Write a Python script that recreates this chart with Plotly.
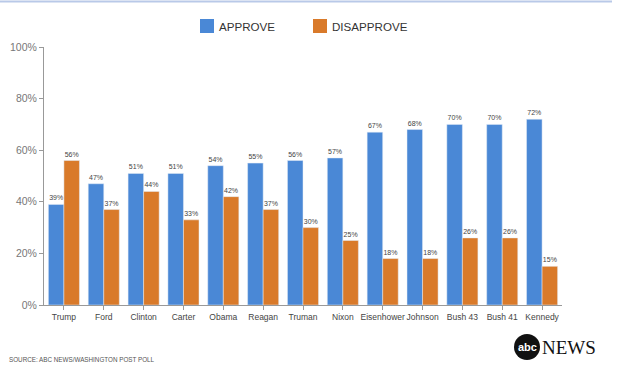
import plotly.graph_objects as go

presidents = ["Trump", "Ford", "Clinton", "Carter", "Obama", "Reagan", "Truman",
              "Nixon", "Eisenhower", "Johnson", "Bush 43", "Bush 41", "Kennedy"]
approve = [39, 47, 51, 51, 54, 55, 56, 57, 67, 68, 70, 70, 72]
disapprove = [56, 37, 44, 33, 42, 37, 30, 25, 18, 18, 26, 26, 15]
series_names = ["APPROVE", "DISAPPROVE"]

BLUE = "#4A88D6"
ORANGE = "#D97A2A"

W, H = 621, 389
L, R, T, B = 44, 59, 47, 84
pw, ph = W - L - R, H - T - B

def px(x):
    return (x - L) / pw

def py(y):
    return (H - B - y) / ph

fig = go.Figure()
fig.add_trace(go.Bar(x=presidents, y=approve, name=series_names[0], marker_color=BLUE,
                     text=[f"{v}%" for v in approve], textposition="outside",
                     textfont=dict(size=7, color="#444"), cliponaxis=False))
fig.add_trace(go.Bar(x=presidents, y=disapprove, name=series_names[1], marker_color=ORANGE,
                     text=[f"{v}%" for v in disapprove], textposition="outside",
                     textfont=dict(size=7, color="#444"), cliponaxis=False))

fig.update_layout(
    width=W, height=H,
    margin=dict(l=L, r=R, t=T, b=B, autoexpand=False),
    paper_bgcolor="white", plot_bgcolor="white",
    barmode="group", bargap=0.22, bargroupgap=0,
    font=dict(family="Liberation Sans, Arial, sans-serif", color="#444"),
    showlegend=False,
    xaxis=dict(showline=True, linecolor="#999", linewidth=1, ticks="outside", ticklen=4,
               tickcolor="#999", tickangle=0, tickfont=dict(size=8.5, color="#444"),
               showgrid=False, automargin=False),
    yaxis=dict(range=[0, 100], tickvals=[0, 20, 40, 60, 80, 100],
               ticktext=["0%", "20%", "40%", "60%", "80%", "100%"],
               showline=True, linecolor="#999", linewidth=1, ticks="outside", ticklen=4,
               tickcolor="#999", tickfont=dict(size=10.5, color="#777"), showgrid=False,
               zeroline=False, automargin=False),
    shapes=[
        dict(type="line", xref="paper", yref="paper", x0=px(0), x1=px(612), y0=py(1.5), y1=py(1.5),
             line=dict(color="#B9C9E8", width=2)),
        dict(type="rect", xref="paper", yref="paper", x0=px(200), x1=px(214),
             y0=py(33), y1=py(19), fillcolor=BLUE, line=dict(width=0)),
        dict(type="rect", xref="paper", yref="paper", x0=px(313), x1=px(327),
             y0=py(33), y1=py(19), fillcolor=ORANGE, line=dict(width=0)),
        dict(type="circle", xref="paper", yref="paper", x0=px(514), x1=px(540),
             y0=py(360), y1=py(334), fillcolor="#111", line=dict(width=0)),
    ],
    annotations=[
        dict(text=series_names[0], xref="paper", yref="paper", x=px(217), y=py(26),
             xanchor="left", yanchor="middle", showarrow=False,
             font=dict(size=11.6, color="#333")),
        dict(text=series_names[1], xref="paper", yref="paper", x=px(330), y=py(26),
             xanchor="left", yanchor="middle", showarrow=False,
             font=dict(size=11.6, color="#333")),
        dict(text="SOURCE: ABC NEWS/WASHINGTON POST POLL", xref="paper", yref="paper",
             x=px(7), y=py(359), xanchor="left", yanchor="middle", showarrow=False,
             font=dict(size=6.3, color="#555")),
        dict(text="<b>abc</b>", xref="paper", yref="paper", x=px(527), y=py(347),
             xanchor="center", yanchor="middle", showarrow=False,
             font=dict(size=11, color="white")),
        dict(text="NEWS", xref="paper", yref="paper", x=px(540), y=py(347),
             xanchor="left", yanchor="middle", showarrow=False,
             font=dict(size=19, color="#111", family="Liberation Serif, Times New Roman, serif")),
    ],
)

fig.write_html("out.html", config={"displayModeBar": False},
               post_script="document.body.style.margin='0';")
